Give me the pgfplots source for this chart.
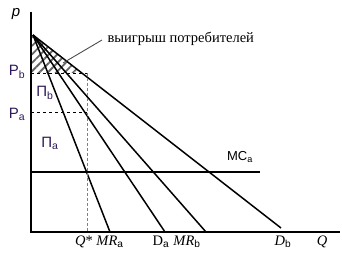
\documentclass[border=0pt]{standalone}
\usepackage{fontspec}
\setmainfont{Liberation Serif}
\setsansfont{Liberation Sans}
\usepackage{pgfplots}
\pgfplotsset{compat=1.18}
\usetikzlibrary{patterns.meta}
\definecolor{lab}{RGB}{45,25,90}
\begin{document}
\begin{tikzpicture}
\begin{axis}[scale only axis, width=342pt, height=256pt,
  xmin=0, xmax=342, ymin=0, ymax=256, hide axis, clip=false]
\addplot[draw=none, forget plot] coordinates {(0,0) (342,256)};
% hatched consumer surplus
\addplot[draw=none, pattern={Lines[angle=45,distance=6pt,line width=1.8pt]}, pattern color=black!60] coordinates {(31,221) (33,221) (81.8,183) (31,183)} --cycle;
% axes
\addplot[black, line width=1.1pt] coordinates {(31,244) (31,24) (340,24)};
% demand and MR lines
\addplot[black, line width=1.5pt] coordinates {(33,221) (110,24)};
\addplot[black, line width=1.5pt] coordinates {(33,221) (165,24)};
\addplot[black, line width=1.5pt] coordinates {(33,221) (206,24)};
\addplot[black, line width=1.5pt] coordinates {(33,221) (281,28)};
% MC
\addplot[black, line width=1.5pt] coordinates {(31,84) (260,84)};
% dashed
\addplot[black, dashed, line width=0.8pt] coordinates {(31,144) (87,144)};
\addplot[black, dashed, line width=0.8pt] coordinates {(31,183) (87,183)};
\addplot[gray, densely dashed, line width=1pt] coordinates {(87,183) (87,24)};
% annotation line
\addplot[black!70, line width=0.9pt] coordinates {(63,193) (102,216)};
\node[anchor=west, font=\fontsize{14.5}{15}\selectfont] at (axis cs:104,217) {выигрыш потребителей};
\node[font=\sffamily\itshape\fontsize{15}{16}\selectfont] at (axis cs:16,242) {p};
\node[text=lab, font=\sffamily\fontsize{15}{16}\selectfont] at (axis cs:17,184) {P\textsubscript{b}};
\node[text=lab, font=\sffamily\fontsize{15}{16}\selectfont] at (axis cs:17,142) {P\textsubscript{a}};
\node[text=lab, font=\sffamily\fontsize{15}{16}\selectfont] at (axis cs:45,163) {Π\textsubscript{b}};
\node[text=lab, font=\sffamily\fontsize{15}{16}\selectfont] at (axis cs:50,113) {Π\textsubscript{a}};
\node[font=\sffamily\fontsize{13}{14}\selectfont] at (axis cs:240,99) {MC\textsubscript{a}};
\node[font=\fontsize{14.5}{15}\selectfont] at (axis cs:84,14) {\textit{Q}*};
\node[font=\fontsize{14.5}{15}\selectfont] at (axis cs:110,14) {\textit{MR}\textsubscript{\sffamily a}};
\node[font=\fontsize{14.5}{15}\selectfont] at (axis cs:161,14) {D\textsubscript{\sffamily a}};
\node[font=\fontsize{14.5}{15}\selectfont] at (axis cs:187,14) {\textit{MR}\textsubscript{\sffamily b}};
\node[font=\fontsize{14.5}{15}\selectfont] at (axis cs:283,14) {\textit{D}\textsubscript{\sffamily b}};
\node[font=\fontsize{14.5}{15}\selectfont] at (axis cs:322,14) {\textit{Q}};
\end{axis}
\end{tikzpicture}
\end{document}
